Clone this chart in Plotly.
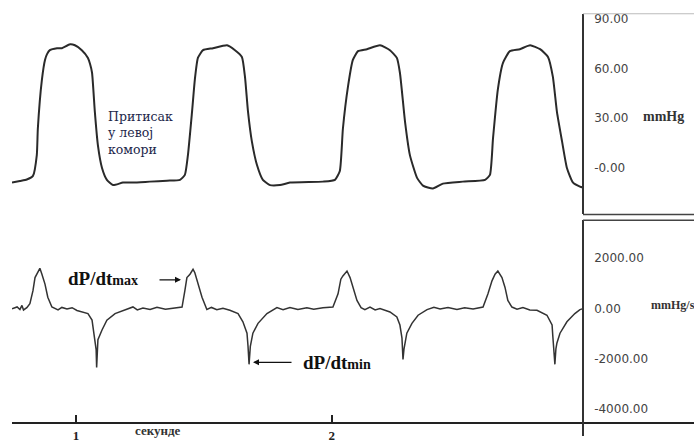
import plotly.graph_objects as go

W, H = 694, 443

# ---- data (time in seconds) ----
pressure_t = [0.750, 0.781, 0.808, 0.832, 0.847, 0.851, 0.867, 0.879, 0.887, 0.898, 0.926, 0.945, 0.977, 0.996,
              1.023, 1.047, 1.055, 1.063, 1.074, 1.086, 1.102, 1.121, 1.145, 1.184, 1.223, 1.289, 1.356, 1.407,
              1.426, 1.438, 1.454, 1.465, 1.477, 1.497, 1.536, 1.591, 1.622, 1.649, 1.661, 1.673, 1.688,
              1.708, 1.731, 1.759, 1.798, 1.837, 1.966, 2.013, 2.032, 2.044, 2.064, 2.083, 2.103, 2.138,
              2.189, 2.228, 2.255, 2.267, 2.287, 2.306, 2.334, 2.357, 2.396, 2.435, 2.513, 2.600, 2.619,
              2.631, 2.650, 2.670, 2.697, 2.736, 2.776, 2.815, 2.846, 2.865, 2.881, 2.901, 2.920, 2.944,
              2.971, 2.983]
pressure_mmHg = [-9.2, -8.2, -7.3, -5.1, 7.5, 23.5, 53.3, 65.3, 68.8, 71.2, 72.4, 72.4, 74.8, 74.2,
                 71.2, 66.5, 62.9, 57.5, 33.7, 13.4, -0.3, -7.5, -10.7, -9.2, -9.2, -8.6, -8.0, -7.5,
                 -4.5, 7.5, 33.7, 53.3, 66.5, 71.2, 72.4, 74.2, 71.2, 67.1, 55.1, 33.7, 15.8,
                 1.5, -7.5, -10.7, -10.7, -9.2, -8.6, -7.5, -2.1, 23.5, 49.2, 65.3, 70.6, 71.8,
                 74.2, 71.2, 66.5, 57.5, 27.7, 7.5, -6.3, -11.0, -12.8, -9.8, -8.6, -7.5, -4.5,
                 17.6, 47.4, 63.5, 70.6, 71.8, 74.2, 71.8, 67.1, 55.1, 33.7, 15.8, -0.3, -9.2,
                 -11.6, -12.2]

dpdt_t = [0.750, 0.770, 0.781, 0.789, 0.795, 0.808, 0.820, 0.832, 0.840, 0.847, 0.859, 0.867, 0.879,
          0.890, 0.906, 0.930, 0.945, 0.965, 0.985, 1.004, 1.027, 1.047, 1.063, 1.070, 1.076, 1.079,
          1.081, 1.083, 1.086, 1.102, 1.121, 1.153, 1.184, 1.223, 1.240, 1.262, 1.290, 1.317, 1.350,
          1.379, 1.415, 1.426, 1.434, 1.446, 1.458, 1.465, 1.477, 1.493, 1.512, 1.530, 1.551, 1.575,
          1.602, 1.634, 1.653, 1.669, 1.673, 1.677, 1.682, 1.692, 1.712, 1.747, 1.786, 1.810, 1.837,
          1.868, 1.903, 1.930, 1.966, 2.005, 2.025, 2.036, 2.044, 2.060, 2.072, 2.083, 2.099, 2.115,
          2.130, 2.150, 2.170, 2.189, 2.228, 2.255, 2.267, 2.275, 2.279, 2.283, 2.287, 2.294, 2.314,
          2.338, 2.373, 2.400, 2.424, 2.455, 2.490, 2.520, 2.553, 2.592, 2.611, 2.627, 2.639, 2.650,
          2.666, 2.678, 2.689, 2.705, 2.725, 2.748, 2.775, 2.803, 2.842, 2.862, 2.865, 2.873, 2.877,
          2.881, 2.893, 2.920, 2.951, 2.971, 2.983]
dpdt_mmHg_s = [-10, 60, -40, 121, -60, 31, 187, 705, 1223, 1356, 1590, 1356, 966,
               444, 55, -60, 40, -20, 30, -80, -140, -203, -464, -982, -1309, -1632,
               -2345, -1632, -1243, -853, -464, -203, -74, 60, -60, 20, -40, 50, -30,
               20, 55, 705, 1223, 1356, 1551, 1418, 966, 444, -40, 40, -47, 10,
               -74, -203, -530, -982, -1504, -2217, -1504, -982, -592, -203, 31, -50, 40,
               -40, 30, -30, 31, 55, 577, 1161, 1290, 1484, 1223, 834, 316, 31,
               -50, 55, -60, -8, -140, -335, -658, -1177, -2022, -1600, -1371, -982, -592,
               -269, -47, 50, -20, 40, -40, 30, -20, 55, 577, 1096, 1356, 1484,
               1223, 834, 316, 55, -30, 40, -60, -74, -269, -658, -1114, -2217, -1600,
               -1371, -982, -530, -203, -47, -8]

p_tickvals = [0, 30, 60, 90]
p_ticktext = ["-0.00", "30.00", "60.00", "90.00"]
d_tickvals = [-4000, -2000, 0, 2000]
d_ticktext = ["-4000.00", "-2000.00", "0.00", "2000.00"]
x_tickvals = [1, 2]
x_ticktext = ["<b>1</b>", "<b>2</b>"]

def px(x):
    return x / W

def py(y):
    return 1 - y / H

x_range = [0.750, 3.417]
x_domain = [px(12), 1.0]
axis_pos = px(583)

fig = go.Figure()
fig.add_trace(go.Scatter(x=pressure_t, y=pressure_mmHg, mode="lines",
                         line=dict(color="#2a2a2a", width=2, shape="spline", smoothing=0.5),
                         xaxis="x", yaxis="y", hoverinfo="skip"))
fig.add_trace(go.Scatter(x=dpdt_t, y=dpdt_mmHg_s, mode="lines",
                         line=dict(color="#333333", width=1.5), xaxis="x2", yaxis="y2",
                         hoverinfo="skip"))

tickfont = dict(family="DejaVu Sans", size=12, color="#444444")

fig.update_layout(
    width=W, height=H,
    margin=dict(l=0, r=0, t=0, b=0),
    paper_bgcolor="white", plot_bgcolor="white",
    showlegend=False,
    xaxis=dict(domain=x_domain, range=x_range, visible=False, anchor="y"),
    yaxis=dict(domain=[py(217), py(13)], range=[-28.3, 93.3], anchor="free", position=axis_pos,
               side="right", showline=True, linecolor="#333333", linewidth=1.5,
               showgrid=False, zeroline=False, ticks="", tickvals=p_tickvals, ticktext=p_ticktext,
               tickfont=tickfont, ticklabelstandoff=8),
    xaxis2=dict(domain=x_domain, range=x_range, anchor="free", position=py(430),
                showline=True, linecolor="#222222", linewidth=1.5, showgrid=False, zeroline=False,
                ticks="inside", ticklen=7, tickwidth=2, tickcolor="#222222",
                tickvals=x_tickvals, ticktext=x_ticktext,
                tickfont=dict(family="Liberation Serif", size=13, color="#222222")),
    yaxis2=dict(domain=[0, py(223)], range=[-5061, 3510], anchor="free", position=axis_pos,
                side="right", showline=True, linecolor="#333333", linewidth=1.5,
                showgrid=False, zeroline=False, ticks="", tickvals=d_tickvals, ticktext=d_ticktext,
                tickfont=tickfont, ticklabelstandoff=8),
)

shapes = [
    dict(type="line", xref="paper", yref="paper", x0=axis_pos, x1=1, y0=py(217.5), y1=py(217.5),
         line=dict(color="#444444", width=1.5)),
    dict(type="line", xref="paper", yref="paper", x0=axis_pos, x1=1, y0=py(223.3), y1=py(223.3),
         line=dict(color="#444444", width=1.5)),
    dict(type="line", xref="paper", yref="paper", x0=axis_pos, x1=1, y0=py(13), y1=py(13),
         line=dict(color="#bbbbbb", width=1)),
]
fig.update_layout(shapes=shapes)

serif = "Liberation Serif"
ann = []
ann.append(dict(xref="paper", yref="paper", x=px(106), y=py(134),
                text="Притисак<br>у левој<br>комори",
                showarrow=False, xanchor="left", yanchor="middle", align="left",
                font=dict(family="DejaVu Serif", size=12.5, color="#22264a")))
ann.append(dict(xref="paper", yref="paper", x=px(66), y=py(283),
                text="<b>dP/dt<span style='font-size:14px'>max</span></b>",
                showarrow=False, xanchor="left", yanchor="middle",
                font=dict(family=serif, size=19, color="#111111")))
ann.append(dict(xref="paper", yref="paper", x=px(301), y=py(368),
                text="<b>dP/dt<span style='font-size:14px'>min</span></b>",
                showarrow=False, xanchor="left", yanchor="middle",
                font=dict(family=serif, size=19, color="#111111")))
ann.append(dict(xref="paper", yref="paper", x=px(181), y=py(284), text="", showarrow=True,
                ax=-23, ay=0, arrowhead=2, arrowsize=1, arrowwidth=1.2, arrowcolor="#111111"))
ann.append(dict(xref="paper", yref="paper", x=px(253), y=py(368), text="", showarrow=True,
                ax=40, ay=0, arrowhead=2, arrowsize=1, arrowwidth=1.2, arrowcolor="#111111"))
ann.append(dict(xref="paper", yref="paper", x=px(641), y=py(118), text="<b>mmHg</b>",
                showarrow=False, xanchor="left", yanchor="middle",
                font=dict(family=serif, size=14, color="#333333")))
ann.append(dict(xref="paper", yref="paper", x=px(649), y=py(310), text="<b>mmHg/s</b>",
                showarrow=False, xanchor="left", yanchor="middle",
                font=dict(family=serif, size=12, color="#333333")))
ann.append(dict(xref="paper", yref="paper", x=px(158), y=py(437), text="<b>секунде</b>",
                showarrow=False, xanchor="center", yanchor="middle",
                font=dict(family=serif, size=13, color="#333333")))
fig.update_layout(annotations=ann)

fig.write_html("out.html", config={"displayModeBar": False},
               post_script="document.body.style.margin='0px';document.body.style.overflow='hidden';")
